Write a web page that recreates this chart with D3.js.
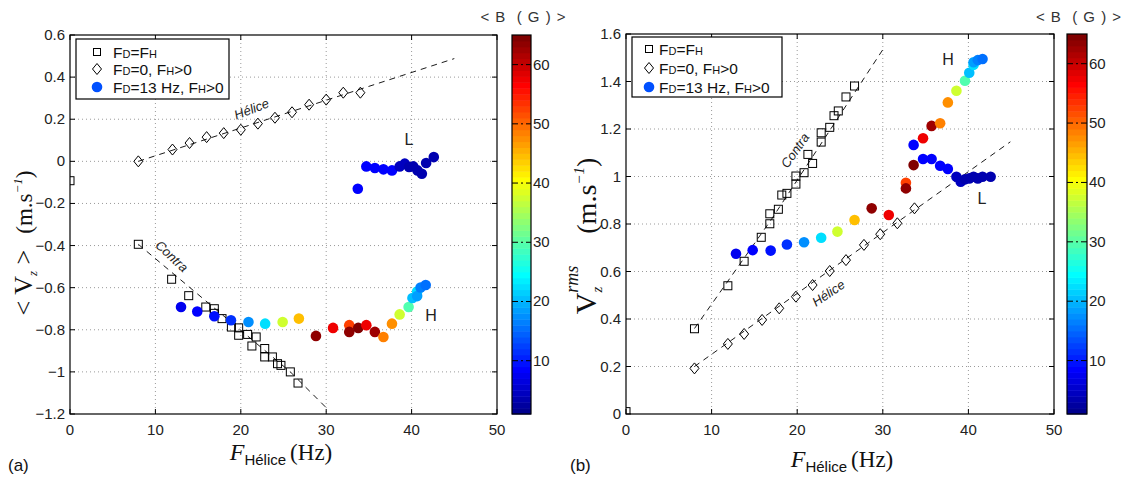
<!DOCTYPE html>
<html><head><meta charset="utf-8">
<script src="https://cdn.jsdelivr.net/npm/d3@7/dist/d3.min.js"></script>
<style>body{margin:0;background:#fff}svg{display:block}</style>
</head><body><svg id="c" width="1122" height="479"></svg>
<script>
// ---------- DATA ----------
const xTicks = [0,10,20,30,40,50];
const yTicksA = [-1.2,-1,-0.8,-0.6,-0.4,-0.2,0,0.2,0.4,0.6];
const yTicksB = [0,0.2,0.4,0.6,0.8,1,1.2,1.4,1.6];
const cbTicks = [10,20,30,40,50,60];
const cbDomain = [1,65];

// Panel (a): <Vz>
const sqA_x = [0,8,11.9,13.9,15.9,16.9,16.9,17.8,18.9,19.75,19.75,20.8,21.3,21.8,22.8,22.8,23.7,24.3,24.7,25.8,26.7];
const sqA_y = [-0.092,-0.394,-0.56,-0.638,-0.692,-0.70,-0.722,-0.747,-0.787,-0.791,-0.826,-0.822,-0.877,-0.834,-0.889,-0.929,-0.929,-0.961,-0.969,-1.0,-1.053];
const diA_x = [8,12,14,16,18,20,22,24,26,28,30,32,34];
const diA_y = [0,0.056,0.087,0.115,0.134,0.15,0.179,0.207,0.233,0.269,0.293,0.326,0.326];
const dotAH_x = [13,14.9,16.9,18.85,20.9,22.85,24.9,26.8,28.8,30.8,32.7,32.7,33.75,34.7,35.7,36.7,37.7,38.6,39.65,40.1,40.65,40.65,41.05,41.65];
const dotAH_y = [-0.692,-0.713,-0.736,-0.755,-0.763,-0.771,-0.763,-0.747,-0.829,-0.791,-0.778,-0.81,-0.791,-0.778,-0.81,-0.834,-0.771,-0.727,-0.692,-0.649,-0.618,-0.64,-0.599,-0.587];
const dotH_B  = [7,8,9,11,17,22,37,44,63,57,52,63,64,57,62,48,47,37,29,20,22,18,16,15];
const dotAL_x = [33.7,34.7,35.7,36.7,37.7,38.6,39.2,39.7,40.2,40.7,41.2,41.7,42.6];
const dotAL_y = [-0.13,-0.024,-0.032,-0.038,-0.043,-0.024,-0.011,-0.027,-0.024,-0.043,-0.059,-0.008,0.02];
const dotL_B  = [8,8,8,8,8,4,4,3,3,3,3,3,3];
const lineHeliceA = [[8,0],[45,0.488]];
const lineContraA = [[8,-0.394],[25.8,-1.0],[30,-1.17]];

// Panel (b): Vz rms
const sqB_x = [0,8,11.9,13.8,15.8,16.8,16.8,17.8,18.2,18.8,19.85,19.85,20.8,21.25,21.8,22.8,22.8,23.8,24.3,24.8,25.7,26.7];
const sqB_y = [0.01,0.359,0.54,0.643,0.744,0.801,0.843,0.862,0.922,0.929,0.968,1.002,1.016,1.093,1.055,1.145,1.184,1.207,1.256,1.276,1.335,1.381];
const diB_x = [8,11.9,13.8,15.9,17.9,19.85,21.8,23.8,25.7,27.8,29.7,31.7,33.7];
const diB_y = [0.192,0.295,0.337,0.396,0.445,0.494,0.543,0.602,0.648,0.712,0.757,0.803,0.866];
const dotBH_x = [12.85,14.8,16.9,18.8,20.8,22.8,24.7,26.7,28.7,30.7,32.7,32.7,33.6,34.7,35.7,36.7,37.6,38.6,39.6,40.1,40.6,40.6,41.1,41.65];
const dotBH_y = [0.675,0.69,0.688,0.714,0.723,0.742,0.768,0.817,0.866,0.838,0.974,0.95,1.048,1.161,1.213,1.224,1.312,1.361,1.403,1.437,1.47,1.481,1.49,1.495];
const dotBL_x = [33.6,34.7,35.7,36.7,37.6,38.6,39.1,39.6,40.1,40.6,41.1,41.65,42.6];
const dotBL_y = [1.133,1.074,1.074,1.045,1.032,0.999,0.978,0.988,0.992,0.999,0.992,0.999,0.999];
const lineContraB = [[8,0.36],[17,0.82],[30.2,1.545]];
const lineHeliceB = [[8,0.2],[44.9,1.146]];

const legendLabels = [["F","D","=F","H",""],["F","D","=0, F","H",">0"],["F","D","=13 Hz, F","H",">0"]];
const legendB = 13;

// ---------- HELPERS ----------
function jet64(k){ // k = 1..64 (MATLAB jet(64))
  const u = j => (j<1||j>47)?0:(j<=16? j/16 : (j<=31? 1 : (48-j)/16));
  const g = u(k-8), r = u(k-24), b = u(k+8);
  return d3.rgb(Math.round(r*255),Math.round(g*255),Math.round(b*255)).toString();
}
function cmap(v){
  let k = Math.floor((v-cbDomain[0])/(cbDomain[1]-cbDomain[0])*64)+1;
  k = Math.max(1,Math.min(64,k));
  return jet64(k);
}
const fmt = v => (v<0?"\u2212":"") + String(+Math.abs(v).toFixed(2));
const zip = (a,b,c) => a.map((v,i)=>c?[v,b[i],c[i]]:[v,b[i]]);

const svg = d3.select("#c");
const SANS = "'Liberation Sans', Arial, sans-serif";
const SERIF = "'Liberation Serif', 'DejaVu Serif', serif";

function panel(cfg){
  const g = svg.append("g");
  const x = d3.scaleLinear().domain([0,50]).range([cfg.left,cfg.right]);
  const y = d3.scaleLinear().domain(cfg.ydom).range([cfg.bottom,cfg.top]);
  // grid
  const grid = g.append("g").attr("stroke","#9a9a9a").attr("stroke-width",1).attr("stroke-dasharray","1,3");
  xTicks.slice(1,-1).forEach(t=>grid.append("line").attr("x1",x(t)).attr("x2",x(t)).attr("y1",cfg.top).attr("y2",cfg.bottom));
  cfg.yticks.slice(1,-1).forEach(t=>grid.append("line").attr("x1",cfg.left).attr("x2",cfg.right).attr("y1",y(t)).attr("y2",y(t)));
  // clip
  const cid = "clip"+cfg.id;
  svg.append("clipPath").attr("id",cid).append("rect").attr("x",cfg.left).attr("y",cfg.top).attr("width",cfg.right-cfg.left).attr("height",cfg.bottom-cfg.top);
  const plot = g.append("g").attr("clip-path",`url(#${cid})`);
  const line = d3.line().x(d=>x(d[0])).y(d=>y(d[1]));
  cfg.lines.forEach(L=>plot.append("path").attr("d",line(L)).attr("fill","none").attr("stroke","#000").attr("stroke-width",0.9).attr("stroke-dasharray","6,5"));
  // squares
  plot.selectAll(null).data(zip(cfg.sqx,cfg.sqy)).enter().append("rect")
    .attr("x",d=>x(d[0])-4).attr("y",d=>y(d[1])-4).attr("width",8).attr("height",8)
    .attr("fill","none").attr("stroke","#000").attr("stroke-width",1);
  // diamonds
  plot.selectAll(null).data(zip(cfg.dix,cfg.diy)).enter().append("path")
    .attr("d",d=>{const cx=x(d[0]),cy=y(d[1]);return `M${cx},${cy-5.5}L${cx+4.5},${cy}L${cx},${cy+5.5}L${cx-4.5},${cy}Z`;})
    .attr("fill","none").attr("stroke","#000").attr("stroke-width",1);
  // dots
  const dots = zip(cfg.lx,cfg.ly,dotL_B).concat(zip(cfg.hx,cfg.hy,dotH_B));
  plot.selectAll(null).data(dots).enter().append("circle")
    .attr("cx",d=>x(d[0])).attr("cy",d=>y(d[1])).attr("r",5.3).attr("fill",d=>cmap(d[2]));
  // frame & ticks
  g.append("rect").attr("x",cfg.left).attr("y",cfg.top).attr("width",cfg.right-cfg.left).attr("height",cfg.bottom-cfg.top)
    .attr("fill","none").attr("stroke","#000").attr("stroke-width",1.2);
  const tk = g.append("g").attr("stroke","#000").attr("stroke-width",1);
  xTicks.forEach(t=>{tk.append("line").attr("x1",x(t)).attr("x2",x(t)).attr("y1",cfg.bottom).attr("y2",cfg.bottom-5);
                     tk.append("line").attr("x1",x(t)).attr("x2",x(t)).attr("y1",cfg.top).attr("y2",cfg.top+5);});
  cfg.yticks.forEach(t=>{tk.append("line").attr("y1",y(t)).attr("y2",y(t)).attr("x1",cfg.left).attr("x2",cfg.left+5);
                     tk.append("line").attr("y1",y(t)).attr("y2",y(t)).attr("x1",cfg.right).attr("x2",cfg.right-5);});
  // tick labels
  const tl = g.append("g").attr("font-family",SANS).attr("font-size",15).attr("fill","#222");
  xTicks.forEach(t=>tl.append("text").attr("x",x(t)).attr("y",cfg.bottom+21).attr("text-anchor","middle").text(fmt(t)));
  cfg.yticks.forEach(t=>tl.append("text").attr("x",cfg.left-5).attr("y",y(t)+5).attr("text-anchor","end").text(fmt(t)));
  // colorbar
  const cy = d3.scaleLinear().domain(cbDomain).range([cfg.bottom,cfg.top]);
  const cb = g.append("g");
  d3.range(64).forEach(i=>{
    const v0 = cbDomain[0]+i*(cbDomain[1]-cbDomain[0])/64, v1 = v0+(cbDomain[1]-cbDomain[0])/64;
    cb.append("rect").attr("x",cfg.cbx).attr("width",cfg.cbw).attr("y",cy(v1)).attr("height",cy(v0)-cy(v1)+0.5).attr("fill",jet64(i+1));
  });
  cb.append("rect").attr("x",cfg.cbx).attr("y",cfg.top).attr("width",cfg.cbw).attr("height",cfg.bottom-cfg.top).attr("fill","none").attr("stroke","#000").attr("stroke-width",1.2);
  cbTicks.forEach(t=>{
    cb.append("line").attr("x1",cfg.cbx).attr("x2",cfg.cbx+cfg.cbw).attr("y1",cy(t)).attr("y2",cy(t)).attr("stroke","#000").attr("stroke-width",1).attr("stroke-dasharray","6,3,2,3,6");
    cb.append("text").attr("x",cfg.cbx+cfg.cbw+2).attr("y",cy(t)+5).attr("font-family",SANS).attr("font-size",15).attr("fill","#222").text(t);
  });
  g.append("text").attr("x",cfg.cbx+cfg.cbw/2+2).attr("y",22).attr("text-anchor","middle").attr("font-family",SANS).attr("font-size",15).attr("letter-spacing",1).attr("fill","#333")
    .attr("xml:space","preserve").text("< B  ( G ) >");
  // legend
  const lg = g.append("g");
  lg.append("rect").attr("x",cfg.lg.x).attr("y",cfg.lg.y).attr("width",cfg.lg.w).attr("height",cfg.lg.h).attr("fill","#fff").attr("stroke","#000").attr("stroke-width",1.2);
  cfg.lg.rows.forEach((ry,i)=>{
    const mx = cfg.lg.mx;
    if(i===0) lg.append("rect").attr("x",mx-3.5).attr("y",ry-3.5).attr("width",7).attr("height",7).attr("fill","none").attr("stroke","#000");
    if(i===1) lg.append("path").attr("d",`M${mx},${ry-5.5}L${mx+4.5},${ry}L${mx},${ry+5.5}L${mx-4.5},${ry}Z`).attr("fill","none").attr("stroke","#000");
    if(i===2) lg.append("circle").attr("cx",mx).attr("cy",ry).attr("r",5.3).attr("fill",cmap(legendB));
    const t = lg.append("text").attr("x",cfg.lg.tx).attr("y",ry+5.5).attr("font-family",SANS).attr("font-size",15.5).attr("fill","#111").attr("xml:space","preserve");
    const p = legendLabels[i];
    t.append("tspan").text(p[0]);
    t.append("tspan").attr("font-size",11).text(p[1]);
    t.append("tspan").text(p[2]);
    t.append("tspan").attr("font-size",11).text(p[3]);
    t.append("tspan").text(p[4]);
  });
  // annotations
  cfg.notes.forEach(n=>g.append("text").attr("transform",`translate(${n.x},${n.y}) rotate(${n.r||0})`)
    .attr("text-anchor","middle").attr("dominant-baseline","middle").attr("font-family",SANS).attr("font-style",n.i?"italic":"normal").attr("font-size",n.s).attr("fill","#222").text(n.t));
  // x label
  const xl = g.append("text").attr("x",cfg.xl.x).attr("y",cfg.xl.y).attr("text-anchor","middle").attr("fill","#111");
  xl.append("tspan").attr("font-family",SERIF).attr("font-style","italic").attr("font-size",24).text("F");
  xl.append("tspan").attr("font-family",SANS).attr("font-size",15).attr("dy",5).text("Hélice");
  xl.append("tspan").attr("font-family",SERIF).attr("font-size",23).attr("dy",-5).attr("dx",4).text("(Hz)");
  // y label
  const yl = g.append("text").attr("transform",`translate(${cfg.yl.x},${cfg.yl.y}) rotate(-90)`).attr("text-anchor","middle").attr("fill","#111").attr("font-family",SERIF).attr("xml:space","preserve");
  cfg.yl.parts.forEach(p=>{const s=yl.append("tspan").attr("font-size",p.s).text(p.t); if(p.dy) s.attr("dy",p.dy); if(p.dx) s.attr("dx",p.dx); if(p.i) s.attr("font-style","italic");});
  // panel tag
  g.append("text").attr("x",cfg.tag.x).attr("y",cfg.tag.y).attr("font-family",SANS).attr("font-size",17).attr("fill","#111").text(cfg.tag.t);
}

panel({id:"a", left:70, right:497, top:35, bottom:414, ydom:[-1.2,0.6], yticks:yTicksA,
  sqx:sqA_x, sqy:sqA_y, dix:diA_x, diy:diA_y, hx:dotAH_x, hy:dotAH_y, lx:dotAL_x, ly:dotAL_y,
  lines:[lineHeliceA,lineContraA], cbx:512, cbw:19,
  lg:{x:76,y:39,w:153,h:60,rows:[52,69,87],mx:97,tx:113},
  notes:[{t:"Hélice",x:252,y:110,r:-21,s:13,i:1},{t:"Contra",x:171,y:257,r:43,s:13,i:1},{t:"L",x:409,y:141,s:16},{t:"H",x:431,y:317,s:16}],
  xl:{x:281,y:460},
  yl:{x:32,y:243,parts:[{t:"< V",s:26},{t:"z",s:13,dy:5,i:1},{t:" >",s:26,dy:-5},{t:"(m.s",s:23,dx:16},{t:"−1",s:13,dy:-10,i:1},{t:")",s:23,dy:10}]},
  tag:{x:8,y:471,t:"(a)"}});

panel({id:"b", left:626, right:1054, top:34, bottom:414, ydom:[0,1.6], yticks:yTicksB,
  sqx:sqB_x, sqy:sqB_y, dix:diB_x, diy:diB_y, hx:dotBH_x, hy:dotBH_y, lx:dotBL_x, ly:dotBL_y,
  lines:[lineContraB,lineHeliceB], cbx:1067, cbw:20,
  lg:{x:632,y:37,w:150,h:60,rows:[49,68,87],mx:649,tx:659},
  notes:[{t:"Contra",x:796,y:151,r:-55,s:13,i:1},{t:"Hélice",x:829,y:294,r:-34,s:13,i:1},{t:"H",x:948,y:61,s:16},{t:"L",x:982,y:200,s:16}],
  xl:{x:842,y:467},
  yl:{x:596,y:236,parts:[{t:"V",s:30},{t:"z",s:15,dy:6,i:1},{t:"rms",s:18,dy:-24,dx:-6,i:1},{t:"(m.s",s:28,dy:18,dx:32},{t:"−1",s:15,dy:-12,i:1},{t:")",s:28,dy:12}]},
  tag:{x:570,y:471,t:"(b)"}});
</script></body></html>
